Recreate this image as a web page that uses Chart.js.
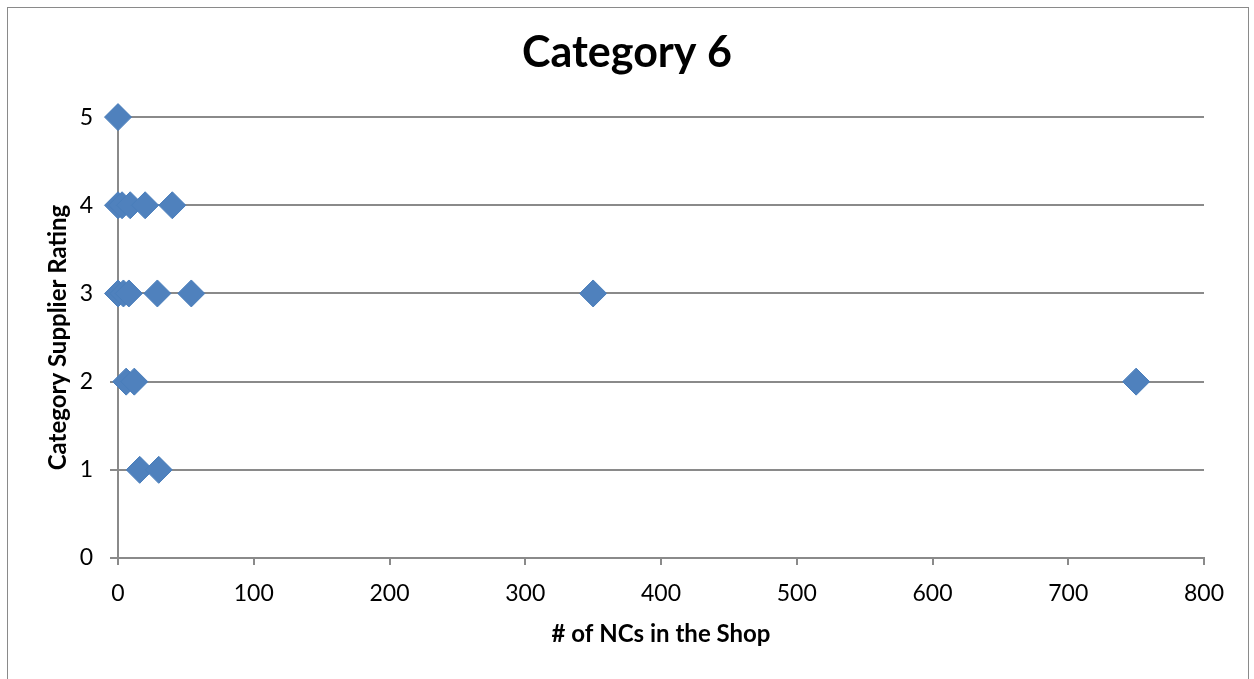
<!DOCTYPE html>
<html>
<head>
<meta charset="utf-8">
<script src="https://cdn.jsdelivr.net/npm/chart.js@4.4.1/dist/chart.umd.min.js"></script>
<style>
  html, body { margin: 0; padding: 0; background: #fff; overflow: hidden; }
  #wrap { position: relative; width: 1254px; height: 679px; }
  #frame { position: absolute; left: 7px; top: 7px; width: 1242px; height: 700px;
           border: 1px solid #8a8a8a; box-sizing: border-box; pointer-events: none; }
  canvas { position: absolute; left: 0; top: 0; }
</style>
</head>
<body>
<div id="wrap">
  <canvas id="c" width="1254" height="679"></canvas>
  <div id="frame"></div>
</div>
<script>
// Supplier rating vs. number of NCs recorded in the shop
const ncCounts = [0, 0, 3, 9, 20, 40, 0, 4, 8, 29, 54, 350, 6, 12, 750, 16, 30];
const ratings  = [5, 4, 4, 4, 4, 4, 3, 3, 3, 3, 3, 3, 2, 2, 2, 1, 1];
const xTicks = [0, 100, 200, 300, 400, 500, 600, 700, 800];
const yTicks = [0, 1, 2, 3, 4, 5];

const points = ncCounts.map((v, i) => ({ x: v, y: ratings[i] }));

const FONT = "Lato, 'Open Sans', sans-serif";
const GRID = '#8a8a8a';

new Chart(document.getElementById('c'), {
  type: 'scatter',
  data: {
    datasets: [{
      label: 'Category 6',
      data: points,
      pointStyle: 'rectRot',
      pointRadius: 13.5,
      pointHoverRadius: 13.5,
      backgroundColor: '#4f81bd',
      borderColor: '#4a7ebb',
      borderWidth: 1,
      clip: false
    }]
  },
  options: {
    responsive: false,
    animation: false,
    events: [],
    layout: { padding: 0 },
    plugins: {
      legend: { display: false },
      tooltip: { enabled: false },
      title: {
        display: true,
        text: 'Category 6',
        color: '#000',
        font: { family: FONT, size: 43, weight: 'bold' },
        padding: { top: 27, bottom: 38.5 }
      }
    },
    scales: {
      x: {
        type: 'linear',
        min: xTicks[0],
        max: xTicks[xTicks.length - 1],
        afterBuildTicks: s => { s.ticks = xTicks.map(v => ({ value: v })); },
        afterFit: s => { s.height = 679 - 558; },
        grid: { drawOnChartArea: false, drawTicks: true, tickLength: 7, color: GRID, lineWidth: 2 },
        border: { display: true, color: GRID, width: 2 },
        ticks: { color: '#000', padding: 15, font: { family: FONT, size: 23 } },
        title: {
          display: true,
          text: '# of NCs in the Shop',
          color: '#000',
          font: { family: FONT, size: 24, weight: 'bold' },
          padding: { top: 0, bottom: 30 }
        }
      },
      y: {
        type: 'linear',
        min: yTicks[0],
        max: yTicks[yTicks.length - 1],
        afterBuildTicks: s => { s.ticks = yTicks.map(v => ({ value: v })); },
        afterFit: s => { s.width = 118; },
        grid: { drawOnChartArea: true, drawTicks: true, tickLength: 8, color: GRID, lineWidth: 2 },
        border: { display: true, color: GRID, width: 2 },
        ticks: { color: '#000', padding: 17, font: { family: FONT, size: 23 } },
        title: {
          display: true,
          text: 'Category Supplier Rating',
          color: '#000',
          font: { family: FONT, size: 24, weight: 'bold' },
          padding: { top: 44, bottom: 0 }
        }
      },
      // empty right-hand margin next to the plot area
      yRight: {
        type: 'linear',
        position: 'right',
        min: 0,
        max: 5,
        afterFit: s => { s.width = 50; },
        grid: { display: false },
        border: { display: false },
        ticks: { display: false }
      }
    }
  }
});
</script>
</body>
</html>
